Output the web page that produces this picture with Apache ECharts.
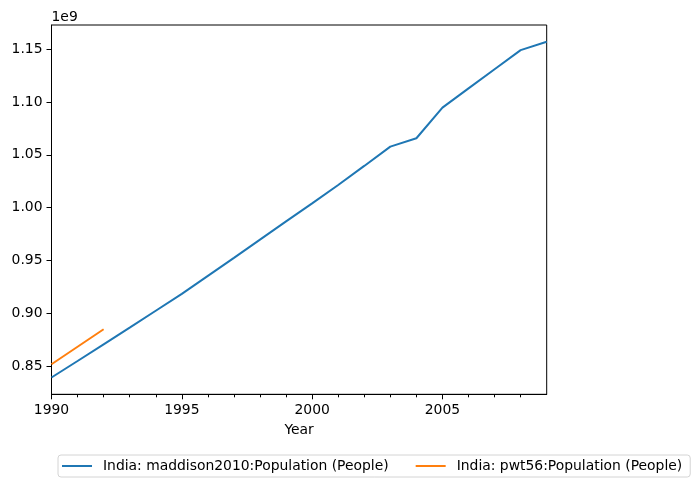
<!DOCTYPE html>
<html>
<head>
<meta charset="utf-8">
<script src="https://cdn.jsdelivr.net/npm/echarts@6/dist/echarts.min.js"></script>
<style>html,body{margin:0;padding:0;background:#fff}#c{width:695px;height:488px}</style>
</head>
<body>
<div id="c"></div>
<script>
const years = [1990,1991,1992,1993,1994,1995,1996,1997,1998,1999,2000,2001,2002,2003,2004,2005,2006,2007,2008,2009];
const maddison = [839400000,855000000,870800000,886600000,902500000,918500000,935500000,952500000,969800000,987000000,1004100000,1021500000,1039500000,1057800000,1065700000,1094700000,1112900000,1131000000,1149000000,1156900000];
const pwtYears = [1990,1991,1992];
const pwt56 = [851900000,868500000,885000000];
const yTicks = [850000000,900000000,950000000,1000000000,1050000000,1100000000,1150000000];
const xTicks = [1990,1995,2000,2005];
const xMinorTicks = [1991,1992,1993,1994,1996,1997,1998,1999,2001,2002,2003,2004,2006,2007,2008];
const seriesNames = ['India: maddison2010:Population (People)','India: pwt56:Population (People)'];

const FONT = 'DejaVu Sans';
const FS = 13.9;
const chart = echarts.init(document.getElementById('c'), null, {renderer:'canvas'});
chart.setOption({
  animation:false,
  backgroundColor:'#fff',
  textStyle:{fontFamily:FONT},
  grid:{left:51.5, right:148.3, top:25, bottom:93.7, show:true, borderColor:'#000', borderWidth:1, backgroundColor:'transparent', containLabel:false, outerBoundsMode:'none'},
  legend:{
    left:58, top:455, orient:'horizontal',
    padding:[4,8,4,4],
    itemWidth:30, itemHeight:14, itemGap:27,
    borderColor:'#d4d4d4', borderWidth:1, borderRadius:3,
    textStyle:{fontFamily:FONT, fontSize:FS, color:'#000', padding:[0,0,0,6]},
    data:seriesNames.map(n=>({name:n, icon:'path://M0,6 L30,6 L30,8 L0,8 Z'}))
  },
  xAxis:[{
    type:'value', min:1990, max:2009,
    name:'Year', nameLocation:'middle', nameGap:29,
    nameTextStyle:{fontFamily:FONT, fontSize:FS, color:'#000'},
    axisLine:{show:true, onZero:false, lineStyle:{color:'#000', width:1}},
    axisTick:{show:true, inside:false, length:5, customValues:xTicks, lineStyle:{color:'#000', width:1}},
    axisLabel:{show:true, margin:9, customValues:xTicks, fontFamily:FONT, fontSize:FS, color:'#000', formatter:v=>String(v)},
    splitLine:{show:false}
  },{
    type:'value', min:1990, max:2009, position:'bottom',
    axisLine:{show:false, onZero:false},
    axisTick:{show:true, inside:false, length:3, customValues:xMinorTicks, lineStyle:{color:'#000', width:1}},
    axisLabel:{show:false},
    splitLine:{show:false}
  }],
  yAxis:{
    type:'value', min:823500000, max:1172800000,
    name:'1e9', nameLocation:'end', nameGap:8,
    nameTextStyle:{fontFamily:FONT, fontSize:FS, color:'#000', align:'left', verticalAlign:'middle'},
    axisLine:{show:true, onZero:false, lineStyle:{color:'#000', width:1}},
    axisTick:{show:true, inside:false, length:5, customValues:yTicks, lineStyle:{color:'#000', width:1}},
    axisLabel:{show:true, margin:9, customValues:yTicks, fontFamily:FONT, fontSize:FS, color:'#000', formatter:v=>(v/1e9).toFixed(2)},
    splitLine:{show:false}
  },
  series:[{
    name:seriesNames[0], type:'line', xAxisIndex:0, showSymbol:false, symbol:'none',
    lineStyle:{color:'#1f77b4', width:2}, itemStyle:{color:'#1f77b4'},
    data:years.map((y,i)=>[y, maddison[i]])
  },{
    name:seriesNames[1], type:'line', xAxisIndex:0, showSymbol:false, symbol:'none',
    lineStyle:{color:'#ff7f0e', width:2}, itemStyle:{color:'#ff7f0e'},
    data:pwtYears.map((y,i)=>[y, pwt56[i]])
  }]
});
</script>
</body>
</html>
